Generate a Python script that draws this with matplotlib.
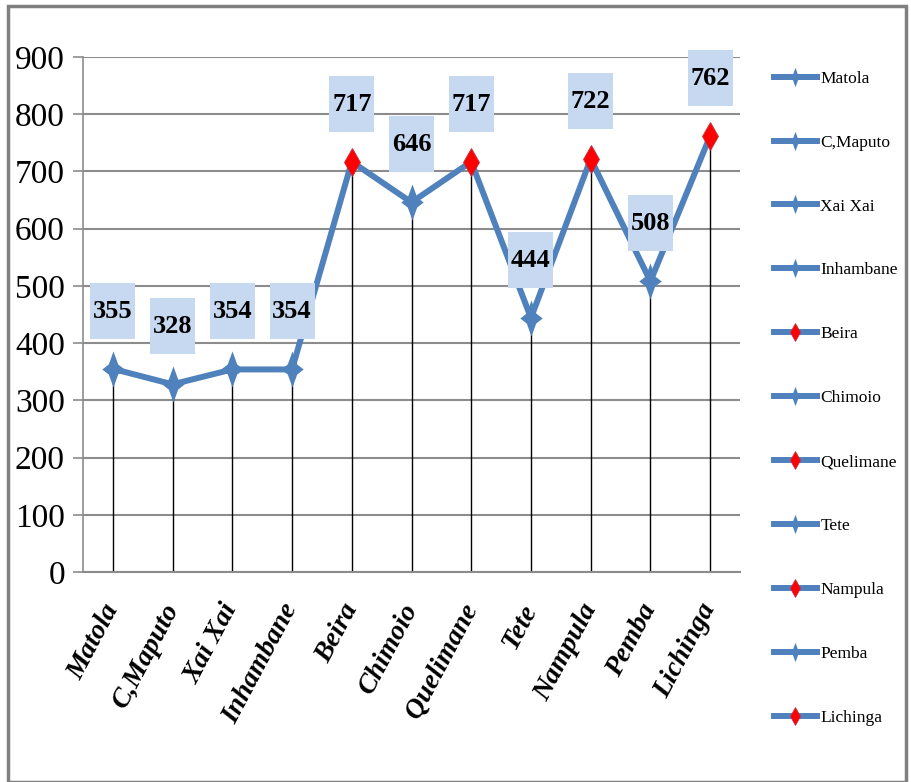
import matplotlib
matplotlib.use("Agg")
import matplotlib.pyplot as plt
from matplotlib.lines import Line2D
from matplotlib.patches import Rectangle
from matplotlib.path import Path
from matplotlib.transforms import ScaledTranslation

cidades = ["Matola", "C,Maputo", "Xai Xai", "Inhambane", "Beira", "Chimoio",
           "Quelimane", "Tete", "Nampula", "Pemba", "Lichinga"]
valores = [355, 328, 354, 354, 717, 646, 717, 444, 722, 508, 762]
destaque = [False, False, False, False, True, False, True, False, True, False, True]
yticks = [0, 100, 200, 300, 400, 500, 600, 700, 800, 900]

AZUL = "#4F81BD"
VERMELHO = "#FF0000"
CAIXA = "#C6D9F1"
CINZA = "#8C8C8C"
SERIF = ["Liberation Serif", "DejaVu Serif"]

# marcador em estrela de 4 pontas (diamante com lados côncavos)
estrela = Path([(0, 1), (0.26, 0.28), (0.62, 0), (0.26, -0.28), (0, -1),
                (-0.26, -0.28), (-0.62, 0), (-0.26, 0.28), (0, 1)],
               [Path.MOVETO] + [Path.LINETO] * 7 + [Path.CLOSEPOLY])

fig = plt.figure(figsize=(9.12, 7.82), dpi=100)
ax = fig.add_axes([83 / 912, 1 - 572 / 782, (740 - 83) / 912, (572 - 57) / 782])

x = list(range(len(cidades)))
ax.vlines(x, 0, valores, color="black", linewidth=1, zorder=2)
ax.plot(x, valores, color=AZUL, linewidth=4.3, solid_joinstyle="miter", zorder=3)

for xi, v, d in zip(x, valores, destaque):
    if d:
        ax.plot(xi, v, marker="d", markersize=14, color=VERMELHO,
                markeredgecolor="#C03040", markeredgewidth=0.6, zorder=4)
    else:
        ax.plot(xi, v, marker=estrela, markersize=26, color=AZUL,
                markeredgewidth=0, zorder=4)
    # caixa com rótulo do valor, posicionada em polegadas acima do ponto
    tr = fig.dpi_scale_trans + ScaledTranslation(xi, v, ax.transData)
    ax.add_patch(Rectangle((-0.225, 0.30), 0.45, 0.56, transform=tr,
                           facecolor=CAIXA, edgecolor="none", clip_on=False, zorder=5))
    ax.text(0, 0.575, str(v), transform=tr, ha="center", va="center",
            fontsize=19, fontweight="bold", family=SERIF, zorder=6, clip_on=False)

ax.set_xlim(-0.5, len(cidades) - 0.5)
ax.set_ylim(0, 900)
ax.set_yticks(yticks)
ax.set_yticklabels([str(t) for t in yticks], fontsize=24, family=SERIF)
ax.set_xticks(x)
ax.set_xticklabels(cidades, rotation=62, ha="right", va="center",
                   rotation_mode="anchor", fontsize=20, fontweight="bold",
                   fontstyle="italic", family=SERIF)
ax.tick_params(axis="x", length=0, pad=24)
ax.tick_params(axis="y", length=7, width=1.2, color=CINZA, pad=6)
ax.grid(axis="y", color=CINZA, linewidth=1.5)
ax.set_axisbelow(True)
for lado in ["top", "right"]:
    ax.spines[lado].set_visible(False)
ax.spines["left"].set_color(CINZA)
ax.spines["left"].set_linewidth(1.2)
ax.spines["bottom"].set_color(CINZA)
ax.spines["bottom"].set_linewidth(1.5)

# legenda: uma entrada por cidade
handles = []
for d in destaque:
    if d:
        handles.append(Line2D([], [], color=AZUL, linewidth=4.3, marker="d",
                              markersize=9, markerfacecolor=VERMELHO,
                              markeredgecolor="#C03040", markeredgewidth=0.5))
    else:
        handles.append(Line2D([], [], color=AZUL, linewidth=4.3, marker=estrela,
                              markersize=14, markerfacecolor=AZUL, markeredgewidth=0))
fig.legend(handles, cidades, loc="upper left", bbox_to_anchor=(758 / 912, 1 - 55 / 782),
           frameon=False, prop={"family": SERIF, "size": 12.5},
           handlelength=2.5, handletextpad=0.2, labelspacing=2.75)

fig.add_artist(Rectangle((8 / 912, 0), 898 / 912, 1 - 6 / 782, transform=fig.transFigure,
                         fill=False, edgecolor="#808080", linewidth=2.5))

fig.savefig("out.png", dpi=100)
